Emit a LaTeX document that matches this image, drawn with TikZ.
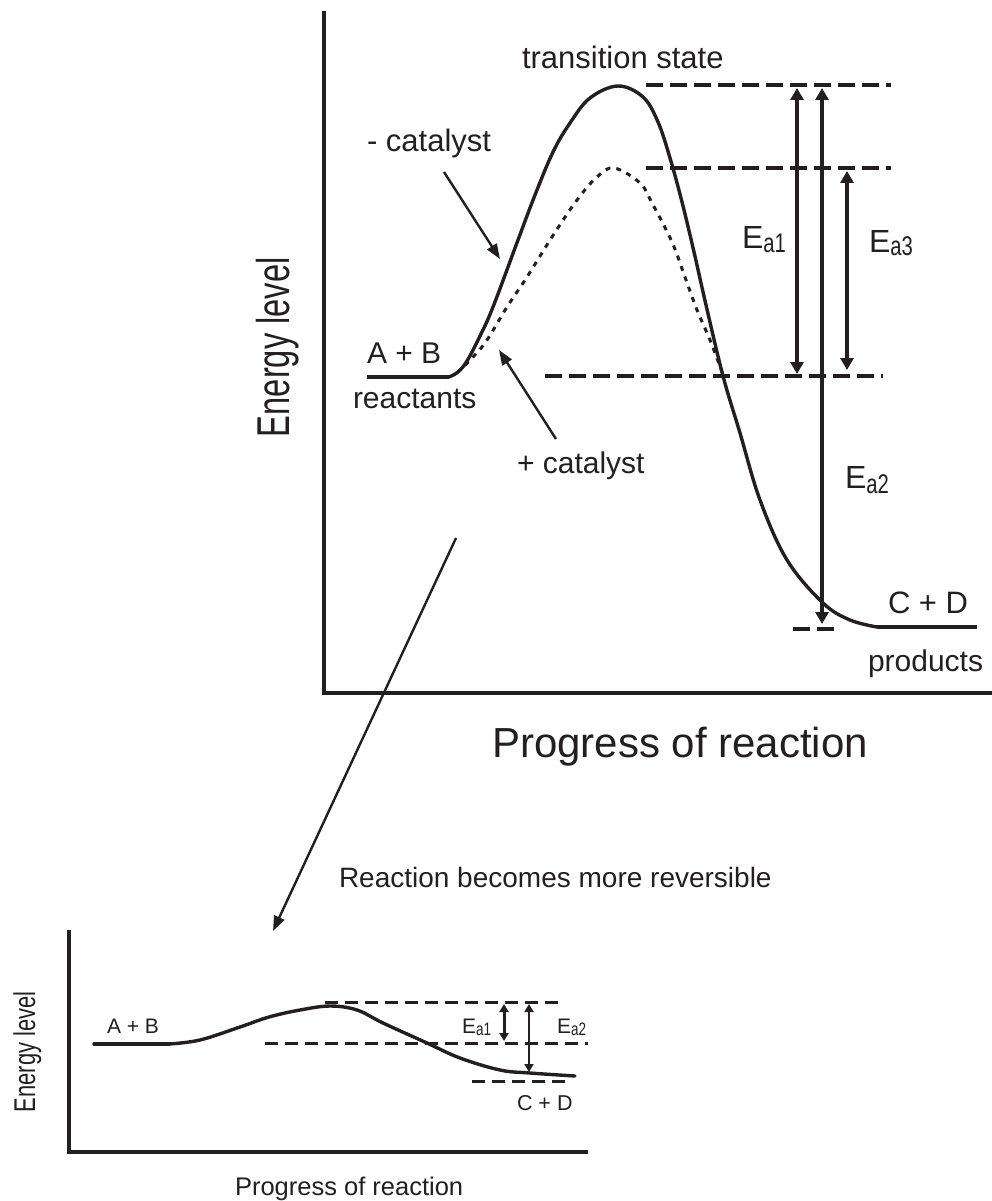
\documentclass[tikz,border=0pt]{standalone}
\usepackage{graphicx}
\usepackage{fontspec}
\setmainfont{Liberation Sans}
\usetikzlibrary{arrows.meta}
\definecolor{ink}{RGB}{35,31,32}
\newcommand{\myfs}[1]{\fontsize{#1}{#1}\selectfont}
% E with condensed, lowered subscript: #1 E size, #2 sub size, #3 drop (pt), #4 subscript
\newcommand{\myEa}[4]{{\myfs{#1}E}\raisebox{-#3pt}{\scalebox{0.75}[1]{\myfs{#2}#4}}}
\begin{document}
\begin{tikzpicture}[x=1pt,y=-1pt,
  every node/.style={inner sep=0pt, outer sep=0pt, text=ink},
  lbl/.style={anchor=base west},
  axisln/.style={line width=4.5pt, draw=ink, line cap=rect},
  curveln/.style={line width=3.4pt, draw=ink, line join=round, line cap=round},
  dashln/.style={line width=3.2pt, draw=ink, dash pattern=on 17pt off 7pt},
  smalldash/.style={line width=3pt, draw=ink, dash pattern=on 13pt off 7pt},
  dotln/.style={line width=3pt, draw=ink, dash pattern=on 5pt off 6pt},
  ptr/.style={line width=2.4pt, draw=ink, -{Triangle[length=15pt,width=11pt]}},
  eaarr/.style={line width=3.2pt, draw=ink, {Triangle[length=12pt,width=13pt]}-{Triangle[length=12pt,width=13pt]}},
  eaarrs/.style={draw=ink, {Triangle[length=8pt,width=9pt]}-{Triangle[length=8pt,width=9pt]}},
]
\useasboundingbox (0,0) rectangle (991,1201);

% ---------------- upper diagram ----------------
% axes
\coordinate (yTop) at (324,13);
\coordinate (origin) at (324,693);
\coordinate (xEnd) at (991,693);
\draw[axisln] (yTop) -- (origin) -- (xEnd);

% axis labels
\node[rotate=90, anchor=base west, font=\myfs{46}] (ylab) at (289,437) {\scalebox{0.71}[1]{Energy level}};
\node[lbl, font=\myfs{42}] (xlab) at (492,757) {Progress of reaction};

% dashed reference lines
\coordinate (tsL) at (646,85);   \coordinate (tsR) at (891,85);
\coordinate (csL) at (646,168);  \coordinate (csR) at (891,168);
\coordinate (rL) at (545,376);   \coordinate (rR) at (883,376);
\coordinate (pL) at (793,629);   \coordinate (pR) at (837,629);
\draw[dashln] (tsL) -- (tsR);
\draw[dashln] (csL) -- (csR);
\draw[dashln] (rL) -- (rR);
\draw[dashln] (pL) -- (pR);

% uncatalysed curve
\draw[line width=4.5pt, draw=ink] (367,377) -- (449,377);
\draw[curveln] plot[smooth, tension=0.6] coordinates {
  (449,377) (458,372) (467,361) (480,336) (493,307) (518,240) (535,195)
  (553,152) (570,123) (590,98) (618,86) (643,97)
  (658,122) (670,158) (682,202) (694,252) (706,305) (723,376) (740,433) (760,500)
  (787,560) (823,603) (850,620) (877,627)};
\draw[line width=3.4pt, draw=ink] (877,627) -- (977,627);

% catalysed curve
\draw[dotln] plot[smooth, tension=0.6] coordinates {
  (457,373) (473,357) (487,340) (507,307) (527,277) (552,237) (577,200)
  (597,177) (614,168) (640,183) (652,203) (672,242) (686,280)
  (697,310) (710,340) (722,372)};

% activation energy arrows
\coordinate (a1T) at (797,88);  \coordinate (a1B) at (797,374);
\coordinate (a2T) at (822,88);  \coordinate (a2B) at (822,624);
\coordinate (a3T) at (847,171); \coordinate (a3B) at (847,370);
\draw[eaarr] (a1T) -- (a1B);
\draw[eaarr] (a2T) -- (a2B);
\draw[eaarr] (a3T) -- (a3B);
\node[lbl] (ea1) at (742,248) {\myEa{32}{27}{4}{a1}};
\node[lbl] (ea3) at (869,252) {\myEa{32}{27}{3}{a3}};
\node[lbl] (ea2) at (845,488) {\myEa{32}{27}{5}{a2}};

% text labels
\node[lbl, font=\myfs{31}] (ts) at (522,69) {transition state};
\node[lbl, font=\myfs{31}] (mcat) at (367,152) {- catalyst};
\node[lbl, font=\myfs{30}] (ab) at (367,363) {A + B};
\node[lbl, font=\myfs{30}] (react) at (353,408) {reactants};
\node[lbl, font=\myfs{30}] (pcat) at (517,473) {+ catalyst};
\node[lbl, font=\myfs{31}] (cd) at (888,613) {C + D};
\node[lbl, font=\myfs{30}] (prod) at (868,671) {products};

% pointer arrows
\coordinate (mcTail) at (444,172); \coordinate (mcTip) at (500,259);
\draw[ptr] (mcTail) -- (mcTip);
\coordinate (pcTail) at (556,439); \coordinate (pcTip) at (499,350);
\draw[ptr] (pcTail) -- (pcTip);
\coordinate (bigTail) at (456,538); \coordinate (bigTip) at (273,931);
\draw[ptr] (bigTail) -- (bigTip);

\node[lbl, font=\myfs{28}] (rev) at (339,887) {Reaction becomes more reversible};

% ---------------- lower diagram ----------------
\coordinate (yTop2) at (69,930);
\coordinate (origin2) at (69,1152);
\coordinate (xEnd2) at (588,1152);
\draw[line width=4pt, draw=ink] (yTop2) -- (origin2) -- (xEnd2);

\node[rotate=90, anchor=base west, font=\myfs{30}] (ylab2) at (35,1112) {\scalebox{0.73}[1]{Energy level}};
\node[lbl, font=\myfs{25.5}] (xlab2) at (235,1195) {Progress of reaction};

\coordinate (ts2L) at (325,1002); \coordinate (ts2R) at (560,1002);
\coordinate (r2L) at (265,1043);  \coordinate (r2R) at (588,1043);
\coordinate (p2L) at (472,1081);  \coordinate (p2R) at (572,1081);
\draw[smalldash] (ts2L) -- (ts2R);
\draw[smalldash] (r2L) -- (r2R);
\draw[smalldash] (p2L) -- (p2R);

\draw[curveln] (94,1044) -- (169,1044);
\draw[curveln] plot[smooth, tension=0.6] coordinates {
  (169,1044) (200,1040) (240,1027) (269,1017) (300,1010) (330,1006)
  (357,1010) (383,1023) (427,1043) (460,1058) (500,1070) (530,1073) (575,1076)};

\coordinate (b1T) at (504,1004); \coordinate (b1B) at (504,1041);
\coordinate (b2T) at (529,1004); \coordinate (b2B) at (529,1072);
\draw[eaarrs, line width=3pt] (b1T) -- (b1B);
\draw[eaarrs, line width=1.8pt] (b2T) -- (b2B);
\node[lbl] (eb1) at (462,1033) {\myEa{21}{18}{2}{a1}};
\node[lbl] (eb2) at (557,1033) {\myEa{21}{18}{2}{a2}};

\node[lbl, font=\myfs{21}] (ab2) at (107,1033) {A + B};
\node[lbl, font=\myfs{21.5}] (cd2) at (517,1110) {C + D};
\end{tikzpicture}
\end{document}
